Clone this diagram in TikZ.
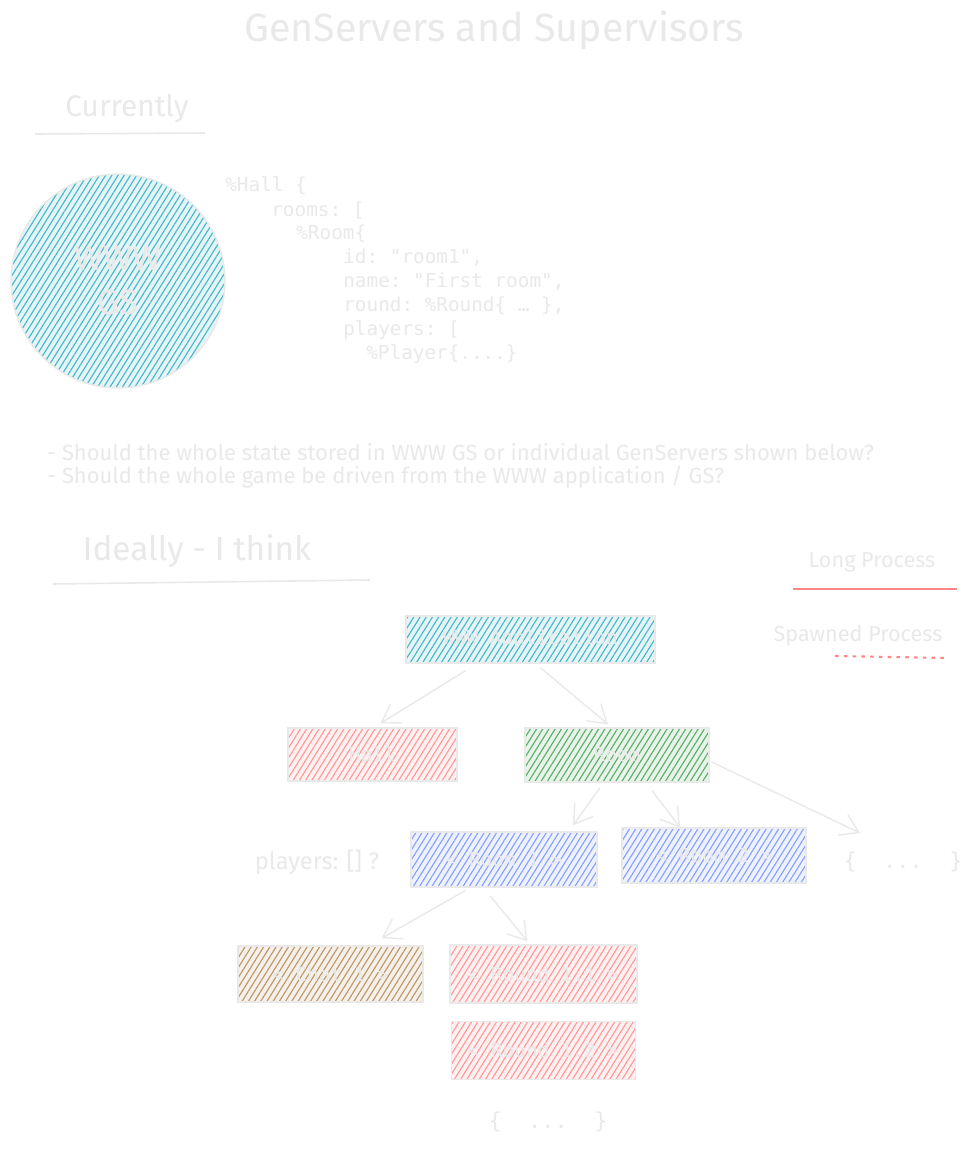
\documentclass[tikz,border=0pt]{standalone}
\usepackage{fontspec}
\setmainfont{Fira Sans}
\setmonofont{DejaVu Sans Mono}
\usetikzlibrary{arrows.meta,calc,positioning,patterns.meta}

\definecolor{ink}{RGB}{233,233,233}
\definecolor{gsteal}{RGB}{40,172,192}
\definecolor{procred}{RGB}{255,135,135}
\definecolor{roomgreen}{RGB}{64,160,80}
\definecolor{roomblue}{RGB}{116,143,252}
\definecolor{chatbrown}{RGB}{176,134,76}

\begin{document}
\begin{tikzpicture}[x=0.02cm,y=-0.02cm,
		hatch/.style={preaction={fill=#1!12},pattern={Lines[angle=58,distance=3pt,line width=0.65pt]},pattern color=#1!85},
		proc/.style={draw=ink,line width=0.8pt,text=ink,inner sep=0pt,font=\ttfamily\fontsize{11}{13}\selectfont},
		link/.style={draw=ink,line width=0.8pt,-{Straight Barb[length=3.5mm,width=4.5mm]}},
		hand/.style={text=ink,inner sep=0pt},
		code/.style={anchor=west,text=ink,inner sep=0pt,font=\ttfamily\fontsize{11}{13}\selectfont},
		under/.style={draw=ink,line width=0.9pt}]
		\fill[white] (0,0) rectangle (971,1150);
		\useasboundingbox (0,0) rectangle (971,1150);
		%
		\node[hand,font=\fontsize{22.4}{25}\selectfont] (title) at (494,30) {GenServers and Supervisors};
		\node[hand,font=\fontsize{17}{20}\selectfont] (now) at (127,108) {Currently};
		\draw[under] (35,134) -- (205,133);
		%
		\node[proc,circle,hatch=gsteal,minimum size=4.28cm,align=center,font=\fontsize{20}{25}\selectfont] (gs) at (118,281) {WWW\\GS};
		\node[code] (c1) at (225,186) {\%Hall \{};
		\node[code] (c2) at (271,210) {rooms: [};
		\node[code] (c3) at (296,234) {\%Room\{};
		\node[code] (c4) at (343,258) {id: "room1",};
		\node[code] (c5) at (343,282) {name: "First room",};
		\node[code] (c6) at (343,306) {round: \%Round\{ … \},};
		\node[code] (c7) at (343,330) {players: [};
		\node[code] (c8) at (366,354) {\%Player\{....\}};
		%
		\node[hand,anchor=west,font=\fontsize{12.5}{15}\selectfont] (q1) at (47,452) {- Should the whole state stored in WWW GS or individual GenServers shown below?};
		\node[hand,anchor=west,font=\fontsize{12.5}{15}\selectfont] (q2) at (47,477) {- Should the whole game be driven from the WWW application / GS?};
		%
		\node[hand,font=\fontsize{19}{22}\selectfont] (ideal) at (197,551) {Ideally - I think};
		\draw[under] (53,584) -- (370,580);
		%
		\node[hand,font=\fontsize{12.3}{14}\selectfont] (long) at (872,562) {Long Process};
		\coordinate (l1) at (793,589);
		\coordinate (l2) at (957,589);
		\draw[procred,line width=1.3pt] (l1) -- (l2);
		\node[hand,font=\fontsize{12.3}{14}\selectfont] (spawn) at (858,636) {Spawned Process};
		\coordinate (s1) at (835,656);
		\coordinate (s2) at (947,658);
		\draw[procred,line width=1.2pt,dash pattern=on 2pt off 3pt] (s1) -- (s2);
		%
		\node[proc,hatch=gsteal,minimum width=4.98cm,minimum height=0.94cm] (app) at (530.5,639.5) {WWW Application};
		\node[proc,hatch=procred,minimum width=3.38cm,minimum height=1.06cm] (hall) at (372.5,754.5) {Hall};
		\node[proc,hatch=roomgreen,minimum width=3.68cm,minimum height=1.08cm] (room) at (617,755) {Room};
		\node[proc,hatch=roomblue,minimum width=3.72cm,minimum height=1.1cm] (r1) at (504,859.5) {< Room 1 >};
		\node[proc,hatch=roomblue,minimum width=3.68cm,minimum height=1.1cm] (r2) at (714,855.5) {< Room 2 >};
		\node[code,anchor=center,font=\ttfamily\fontsize{12.5}{14}\selectfont] (more1) at (903,862) {\{\ \ ...\ \ \}};
		\node[hand,font=\fontsize{13.5}{16}\selectfont] (players) at (317,862) {players: [] ?};
		\node[proc,hatch=chatbrown,minimum width=3.7cm,minimum height=1.12cm] (chat) at (330.5,974) {< Chat 1 >};
		\node[proc,hatch=procred,minimum width=3.74cm,minimum height=1.16cm] (r11) at (543.5,974) {< Round 1.1 >};
		\node[proc,hatch=procred,minimum width=3.68cm,minimum height=1.16cm,below=0.34cm of r11] (r12) {< Round 1.2 >};
		\node[code,anchor=center,font=\ttfamily\fontsize{12.5}{14}\selectfont] (more2) at (548,1122) {\{\ \ ...\ \ \}};
		%
		\draw[link] ($(app.south)+(-65,7)$) -- ($(hall.north)+(8,-4)$);
		\draw[link] ($(app.south)+(10,4)$) -- ($(room.north)+(-9,-3)$);
		\draw[link] ($(room.south)+(-17,5)$) -- ($(r1.north)+(69,-6)$);
		\draw[link] ($(room.south)+(35,8)$) -- ($(r2.north)+(-34,0)$);
		\draw[link] ($(room.east)+(2,7)$) -- ($(more1.center)+(-43,-29)$);
		\draw[link] ($(r1.south)+(-39,3)$) -- ($(chat.north)+(51,-7)$);
		\draw[link] ($(r1.south)+(-14,8)$) -- ($(r11.north)+(-16,-3)$);
	\end{tikzpicture}
\end{document}
